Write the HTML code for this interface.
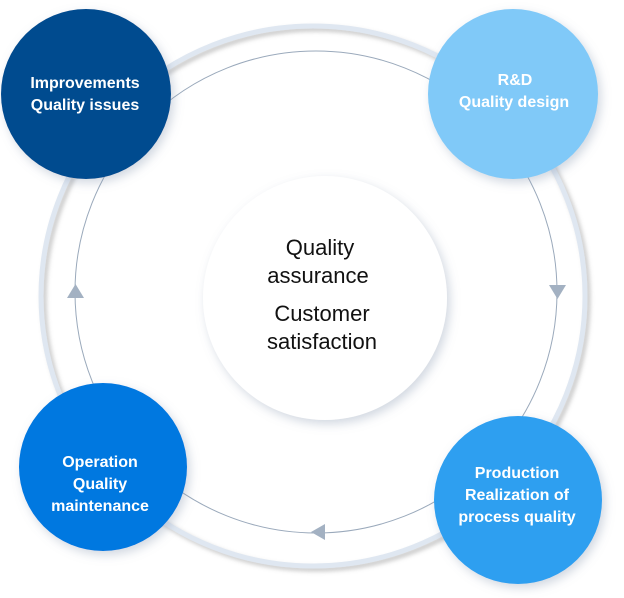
<!DOCTYPE html>
<html><head><meta charset="utf-8"><style>
html,body{margin:0;padding:0;background:#fff;}
svg{display:block;}
text{font-family:"Liberation Sans",sans-serif;}
</style></head><body>
<svg width="624" height="598" viewBox="0 0 624 598" xmlns="http://www.w3.org/2000/svg">
<defs>
<filter id="sh" x="-30%" y="-30%" width="160%" height="160%">
<feDropShadow dx="3" dy="4" stdDeviation="5" flood-color="#7d8fa8" flood-opacity="0.35"/>
</filter>
<filter id="sh2" x="-10%" y="-10%" width="120%" height="120%">
<feDropShadow dx="3" dy="3" stdDeviation="2" flood-color="#888" flood-opacity="0.45"/>
</filter>
</defs>
<!-- outer ring -->
<ellipse cx="313" cy="296" rx="272" ry="270" fill="none" stroke="#dfe7f1" stroke-width="5" filter="url(#sh2)"/>
<!-- inner thin ring -->
<circle cx="316" cy="292" r="241" fill="none" stroke="#9aa9bb" stroke-width="1"/>
<!-- arrowheads -->
<polygon points="549,285 566,285 557.5,299" fill="#a3b1c2"/>
<polygon points="67,298 84,298 75.5,284" fill="#a3b1c2"/>
<polygon points="311,532 325,524 325,540" fill="#a3b1c2"/>
<!-- center circle -->
<circle cx="325" cy="298" r="122" fill="#fff" filter="url(#sh)"/>
<!-- nodes -->
<circle cx="86" cy="94" r="85" fill="#024c8f" filter="url(#sh)"/>
<circle cx="513" cy="94" r="85" fill="#80c9f8" filter="url(#sh)"/>
<circle cx="103" cy="467" r="84" fill="#0078e0" filter="url(#sh)"/>
<circle cx="518" cy="500" r="84" fill="#2d9ff0" filter="url(#sh)"/>
<g font-size="16" font-weight="bold" fill="#fff" text-anchor="middle">
<text x="85" y="88">Improvements</text>
<text x="85" y="110">Quality issues</text>
<text x="515" y="85">R&amp;D</text>
<text x="514" y="107">Quality design</text>
<text x="100" y="467">Operation</text>
<text x="100" y="489">Quality</text>
<text x="100" y="511">maintenance</text>
<text x="517" y="478">Production</text>
<text x="517" y="500">Realization of</text>
<text x="517" y="522">process quality</text>
</g>
<g font-size="22" fill="#111" text-anchor="middle">
<text x="320" y="255">Quality</text>
<text x="318" y="283">assurance</text>
<text x="322" y="321">Customer</text>
<text x="322" y="349">satisfaction</text>
</g>
</svg>
</body></html>
